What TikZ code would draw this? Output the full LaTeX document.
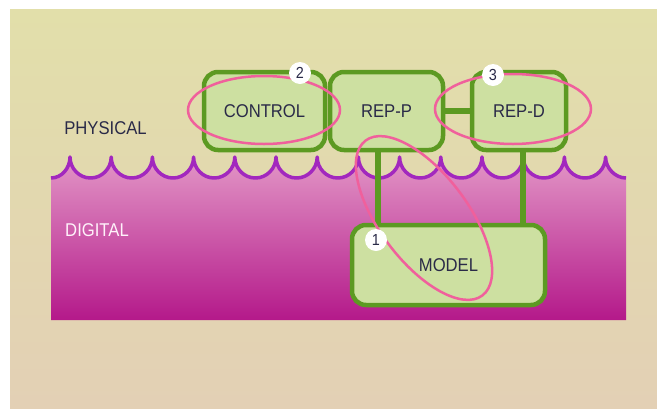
\documentclass[tikz,border=0pt]{standalone}
\usepackage{fontspec}
\setmainfont{Liberation Sans}[FakeStretch=0.9]
\definecolor{sandtop}{HTML}{E2DFAA}
\definecolor{sandbot}{HTML}{E3D0B5}
\definecolor{seatop}{HTML}{E296C6}
\definecolor{seamid}{HTML}{D879B8}
\definecolor{seabot}{HTML}{B4198A}
\definecolor{wave}{HTML}{A228BE}
\definecolor{leaf}{HTML}{CDE0A1}
\definecolor{stem}{HTML}{5C9A22}
\definecolor{rose}{HTML}{F0609C}
\definecolor{ink}{HTML}{2A2A48}
\definecolor{pale}{HTML}{FFF2FA}
\begin{document}
\begin{tikzpicture}[x=1pt,y=-1pt,
  box/.style={draw=stem, fill=leaf, line width=4.5pt, rounded corners=14pt,
    text=ink, font=\fontsize{18.5}{20}\selectfont, inner sep=0pt},
  link/.style={draw=stem, line width=6pt},
  ring/.style={draw=rose, line width=2.5pt},
  badge/.style={circle, fill=white, minimum size=22pt, inner sep=0pt,
    text=ink, font=\fontsize{16}{16}\selectfont},
  zone/.style={font=\fontsize{18.5}{20}\selectfont, inner sep=0pt}]
\useasboundingbox (0,0) rectangle (657,408);
% page and backdrop
\fill[white] (0,0) rectangle (657,408);
\shade[top color=sandtop, bottom color=sandbot] (10,9) rectangle (657,408);
% digital sea with scalloped surface
\shade[top color=seatop, middle color=seamid, bottom color=seabot]
  (51,320) -- (51,178)
  .. controls (61.5,178) and (70,168.4) .. (70,157)
  \foreach \k in {0,...,12} {
    .. controls ({70+41.2*\k},168.4) and ({70+41.2*\k+9.2},178) .. ({70+41.2*\k+20.6},178)
    .. controls ({70+41.2*\k+32},178) and ({70+41.2*\k+41.2},168.4) .. ({70+41.2*\k+41.2},157)
  }
  .. controls (605.6,168.4) and (615.5,178) .. (626,178)
  -- (626,320) -- cycle;
\draw[wave, line width=3.5pt, line join=round]
  (51,178)
  .. controls (61.5,178) and (70,168.4) .. (70,157)
  \foreach \k in {0,...,12} {
    .. controls ({70+41.2*\k},168.4) and ({70+41.2*\k+9.2},178) .. ({70+41.2*\k+20.6},178)
    .. controls ({70+41.2*\k+32},178) and ({70+41.2*\k+41.2},168.4) .. ({70+41.2*\k+41.2},157)
  }
  .. controls (605.6,168.4) and (615.5,178) .. (626,178);
% zone labels
\node[zone, text=ink] (phys) at (105.5,128) {PHYSICAL};
\node[zone, text=pale] (digi) at (97,230.5) {DIGITAL};
% boxes
\node[box, minimum width=121pt, minimum height=78pt] (ctrl) at (264.5,111) {CONTROL};
\node[box, minimum width=113pt, minimum height=78pt] (repp) at (386.5,111) {REP-P};
\node[box, minimum width=94pt, minimum height=78pt] (repd) at (519,111) {REP-D};
\node[box, minimum width=193pt, minimum height=80pt, text depth=-6pt] (model) at (448.5,265) {MODEL};
% connectors
\draw[link] (repp.east) -- (repd.west);
\draw[link] ([xshift=-8.5pt]repp.south) -- ([xshift=-8.5pt]repp.south |- model.north);
\draw[link] ([xshift=4pt]repd.south) -- ([xshift=4pt]repd.south |- model.north);
% highlight rings
\draw[ring] (264,110) ellipse [x radius=76pt, y radius=34pt];
\draw[ring] (513,109) ellipse [x radius=78pt, y radius=35pt];
\draw[ring, rotate around={-53:(424,218)}] (424,218) ellipse [x radius=97pt, y radius=44pt];
% numbered badges
\node[badge] (b2) at (300,73) {2};
\node[badge] (b3) at (493,75) {3};
\node[badge] (b1) at (376,240) {1};
\end{tikzpicture}
\end{document}
